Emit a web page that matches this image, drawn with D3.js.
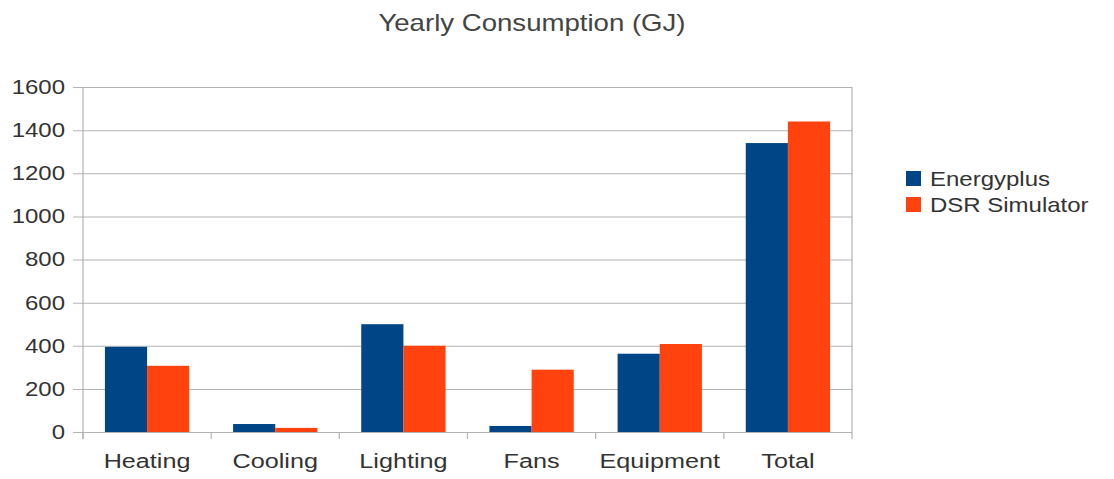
<!DOCTYPE html>
<html>
<head>
<meta charset="utf-8">
<script src="https://cdn.jsdelivr.net/npm/d3@7"></script>
<style>
  html, body { margin: 0; padding: 0; background: #fff; }
  svg { display: block; }
  text { font-family: "Liberation Sans", Arial, sans-serif; fill: #333; }
</style>
</head>
<body>
<svg id="chart"></svg>
<script>
// Yearly energy use by end use, two simulators compared
const categories = ["Heating", "Cooling", "Lighting", "Fans", "Equipment", "Total"];
const seriesNames = ["Energyplus", "DSR Simulator"];
const energyplus = [395, 37, 500, 28, 363, 1340];
const dsrSimulator = [307, 19, 400, 289, 408, 1440];
const yTicks = [0, 200, 400, 600, 800, 1000, 1200, 1400, 1600];
const colors = ["#004586", "#ff420e"];

const W = 1114, H = 479;
// Glyphs in this chart are drawn wide: the drawing is laid out in a
// narrower user space and stretched horizontally to the full width.
const SX = 1.2;
const X = px => px / SX;

const svg = d3.select("#chart")
  .attr("width", W).attr("height", H)
  .attr("viewBox", `0 0 ${W / SX} ${H}`)
  .attr("preserveAspectRatio", "none");

const plot = { left: X(83), right: X(852), top: 87, bottom: 432 };

const x0 = d3.scaleBand().domain(categories).range([plot.left, plot.right]).padding(0);
const x1 = d3.scaleBand().domain(seriesNames).range([0, x0.bandwidth()])
  .paddingInner(0).paddingOuter(0.52);
const y = d3.scaleLinear().domain([0, 1600]).range([plot.bottom, plot.top]);

// title
svg.append("text")
  .attr("x", X(532)).attr("y", 31)
  .attr("text-anchor", "middle")
  .style("font-size", "23px").style("fill", "#444")
  .text("Yearly Consumption (GJ)");

// horizontal grid lines and y tick labels
const yAxis = d3.axisLeft(y).tickValues(yTicks)
  .tickSize(-(plot.right - plot.left) - X(10))
  .tickPadding(X(8))
  .tickFormat(d3.format("d"));
const gy = svg.append("g")
  .attr("transform", `translate(${plot.left - X(10)},0)`)
  .call(yAxis);
gy.select(".domain").remove();
gy.selectAll(".tick line")
  .attr("x1", 0).attr("x2", plot.right - plot.left + X(10))
  .attr("stroke", "#b3b3b3").attr("stroke-width", 1);
gy.selectAll(".tick text")
  .style("font-size", "20px").style("fill", "#333")
  .attr("font-family", null);

// category axis with boundary ticks
const bounds = d3.range(categories.length + 1).map(i => plot.left + i * x0.step());
svg.append("g").selectAll("line").data(bounds).join("line")
  .attr("x1", d => d).attr("x2", d => d)
  .attr("y1", plot.bottom).attr("y2", plot.bottom + 7)
  .attr("stroke", "#b3b3b3").attr("stroke-width", 1);

svg.append("g").selectAll("text").data(categories).join("text")
  .attr("x", d => x0(d) + x0.bandwidth() / 2)
  .attr("y", 468)
  .attr("text-anchor", "middle")
  .style("font-size", "21px")
  .text(d => d);

// plot frame: left and right edges
svg.append("line")
  .attr("x1", plot.left).attr("x2", plot.left)
  .attr("y1", plot.top).attr("y2", plot.bottom + 7)
  .attr("stroke", "#b3b3b3");
svg.append("line")
  .attr("x1", plot.right).attr("x2", plot.right)
  .attr("y1", plot.top).attr("y2", plot.bottom)
  .attr("stroke", "#b3b3b3");

// bars
const seriesData = [energyplus, dsrSimulator];
seriesNames.forEach((name, si) => {
  svg.append("g").selectAll("rect").data(categories).join("rect")
    .attr("x", d => x0(d) + x1(name))
    .attr("width", x1.bandwidth())
    .attr("y", (d, i) => y(seriesData[si][i]))
    .attr("height", (d, i) => y(0) - y(seriesData[si][i]))
    .attr("fill", colors[si]);
});

// legend
const legend = svg.append("g");
seriesNames.forEach((name, i) => {
  const top = 171 + i * 26;
  legend.append("rect")
    .attr("x", X(906)).attr("y", top)
    .attr("width", X(15)).attr("height", 15)
    .attr("fill", colors[i]);
  legend.append("text")
    .attr("x", X(930)).attr("y", top + 15)
    .style("font-size", "20px")
    .text(name);
});
</script>
</body>
</html>
